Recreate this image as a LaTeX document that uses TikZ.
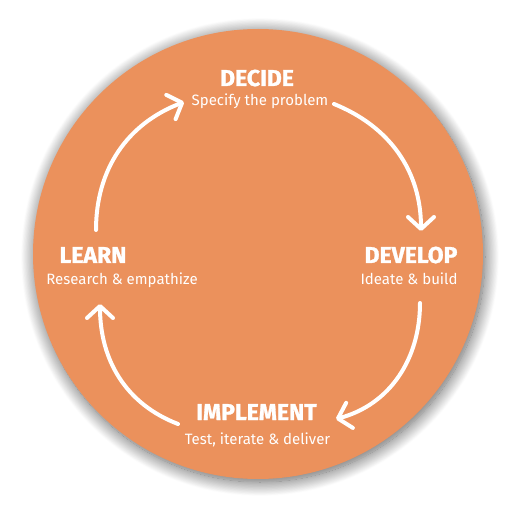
\documentclass[tikz,border=0pt]{standalone}
\usepackage{fontspec}
\setmainfont{Fira Sans}
\newfontfamily\headfont[BoldFeatures={FakeBold=1.2}]{Fira Sans}
\usetikzlibrary{arrows.meta,shadows.blur}
\definecolor{disc}{RGB}{235,145,92}
\begin{document}
\begin{tikzpicture}[x=1pt,y=-1pt,
  head/.style={font=\fontsize{23}{23}\headfont\bfseries, text=white, inner sep=0pt, anchor=base},
  sub/.style={font=\fontsize{15}{15}\selectfont, text=white, inner sep=0pt, anchor=base},
  cyc/.style={draw=white, line width=4pt, line cap=round,
    -{Straight Barb[length=12pt,width=26pt,line cap=round,line join=round]}}]
\useasboundingbox (0,0) rectangle (516,510);
\node[circle, fill=disc, minimum size=450pt, inner sep=0pt,
  blur shadow={shadow xshift=2pt, shadow yshift=-3pt, shadow blur radius=14pt,
  shadow blur steps=24, shadow opacity=65}] (disc) at (258,254) {};
\node[head] (decide) at (257,86) {DECIDE};
\node[sub] (decides) at (260,106) {Specify the problem};
\node[head] (develop) at (411,263) {DEVELOP};
\node[sub] (develops) at (409,284) {Ideate \& build};
\node[head] (learn) at (93,263) {LEARN};
\node[sub] (learns) at (122,284) {Research \& empathize};
\node[head] (implement) at (256.5,420) {IMPLEMENT};
\node[sub] (implements) at (257.5,444) {Test, iterate \& deliver};
\coordinate (a1s) at (96,230);
\coordinate (a1e) at (184,102);
\coordinate (a2s) at (334,104);
\coordinate (a2e) at (421,231);
\coordinate (a3s) at (420,303);
\coordinate (a3e) at (336,419);
\coordinate (a4s) at (178,424);
\coordinate (a4e) at (100,304);
\draw[cyc] (a1s) to[out=90,in=201] (a1e);
\draw[cyc] (a2s) to[out=-22,in=90] (a2e);
\draw[cyc] (a3s) to[out=-90,in=15] (a3e);
\draw[cyc] (a4s) to[out=159,in=-90] (a4e);
\end{tikzpicture}
\end{document}
